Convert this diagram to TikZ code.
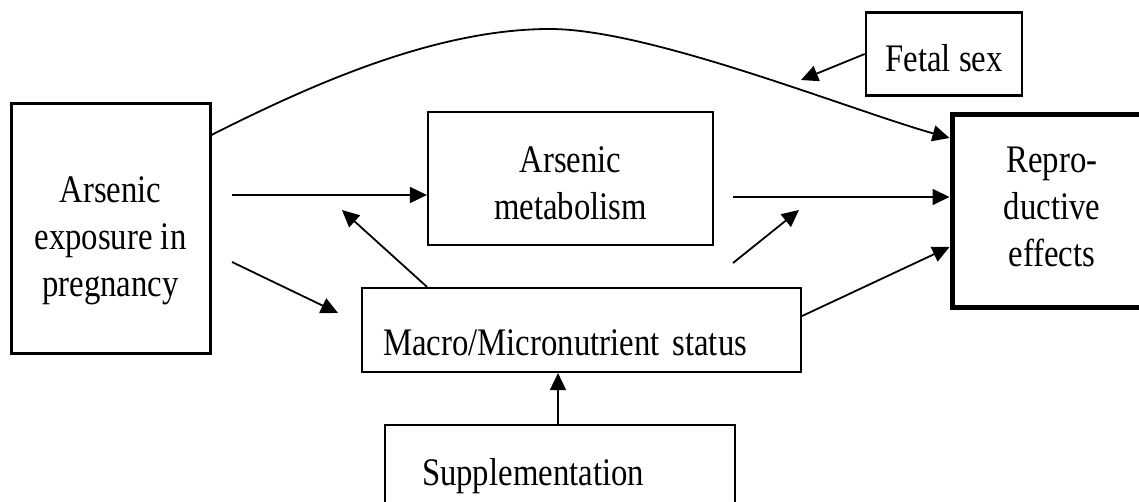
\documentclass[tikz,border=0pt]{standalone}
\usepackage{fontspec}
\setmainfont{Liberation Serif}[FakeStretch=0.84]
\usetikzlibrary{arrows.meta}
\newcommand\stk[1]{\begin{tabular}[t]{@{}c@{}}#1\end{tabular}}
\begin{document}
\begin{tikzpicture}[x=1pt,y=-1pt,
  box/.style={draw, line width=2.2pt, inner sep=0pt, align=center,
    font=\fontsize{39pt}{47pt}\selectfont},
  conn/.style={line width=1.8pt, -{Triangle[length=17pt,width=16pt]}}]
\clip (0,0) rectangle (1139,502);
\fill[white] (0,0) rectangle (1139,502);
% boxes
\node[box, line width=3pt, minimum width=199pt, minimum height=249pt,
  text height=30pt, text depth=81pt] (left) at (110.5,228.5)
  {\stk{Arsenic\\exposure in\\pregnancy}};
\node[box, minimum width=285pt, minimum height=133pt,
  text height=30pt, text depth=41pt] (met) at (570.5,178.5)
  {\stk{Arsenic\\metabolism}};
\node[box, inner xsep=21pt, text width=397pt, align=left, minimum height=84pt,
  text height=60pt, text depth=10pt] (mac) at (581.5,330)
  {Macro/Micronutrient status};
\node[box, inner xsep=37pt, text width=276pt, align=left, minimum height=104pt,
  text height=40pt, text depth=24pt] (sup) at (560,477)
  {Supplementation};
\node[box, line width=2.6pt, minimum width=156pt, minimum height=83pt,
  text height=45pt, text depth=10pt] (fet) at (944,54)
  {Fetal sex};
\node[box, line width=5pt, minimum width=200pt, minimum height=192pt,
  text height=30pt, text depth=106pt] (rep) at (1052,211)
  {\stk{Repro-\\ductive\\effects}};
% free ends
\coordinate (fx) at (801,80);
\coordinate (a1) at (232,195);
\coordinate (a2) at (232,262);
\coordinate (a2t) at (338,313);
\coordinate (m1) at (342,210);
\coordinate (b1) at (733,197);
\coordinate (b2) at (733,263);
\coordinate (b2t) at (799,210);
% connectors
\draw[conn] (left.east |- 0,135) .. controls (320,80) and (440,29) .. (550,29)
  .. controls (650,29) and (850,110) .. (rep.west |- 0,138);
\draw[conn] (fet.west) -- (fx);
\draw[conn] (a1) -- (met.west |- a1);
\draw[conn] (a2) -- (a2t);
\draw[conn] (mac.north -| 427,0) -- (m1);
\draw[conn] (b1) -- (rep.west |- b1);
\draw[conn] (b2) -- (b2t);
\draw[conn] (mac.east |- 0,316) -- (rep.west |- 0,247);
\draw[conn] (sup.north -| 558,0) -- (mac.south -| 558,0);
\end{tikzpicture}
\end{document}
